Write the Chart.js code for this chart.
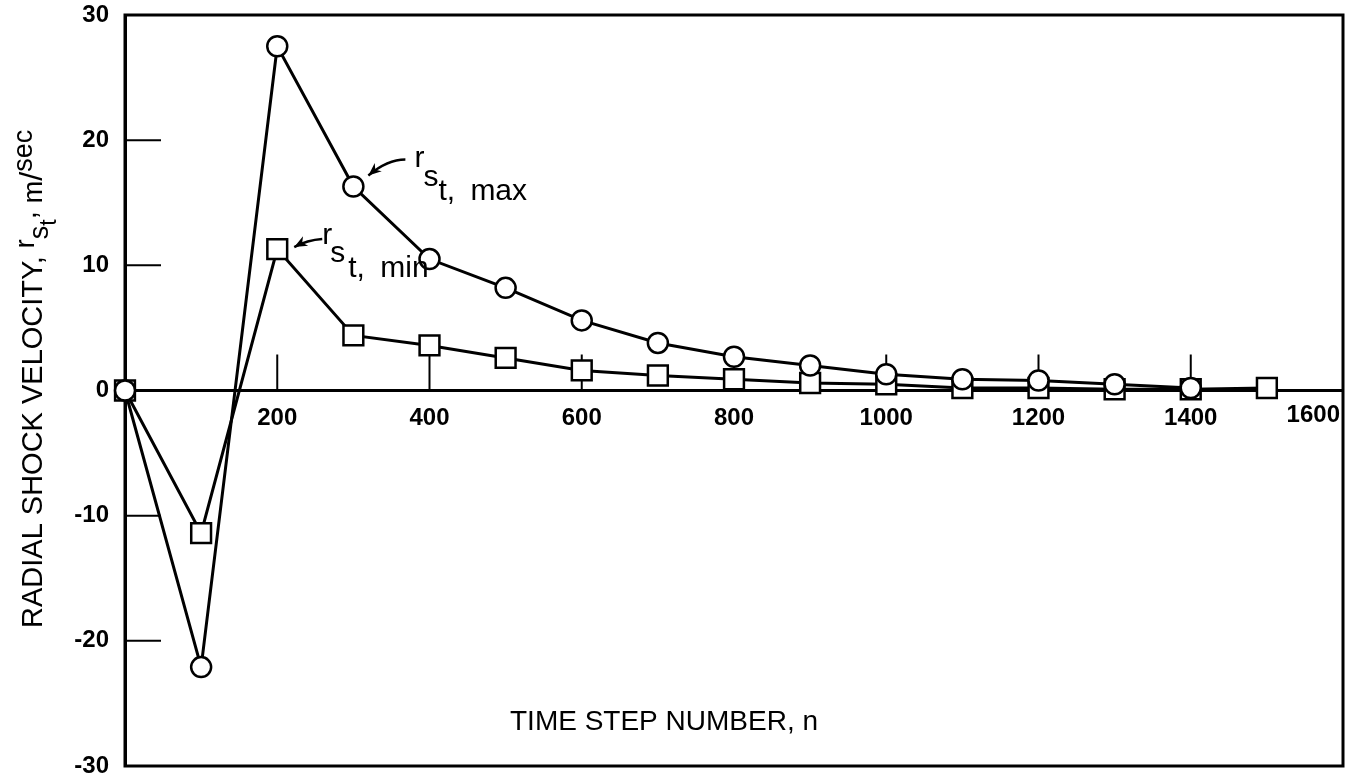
<!DOCTYPE html>
<html>
<head>
<meta charset="utf-8">
<script src="https://cdn.jsdelivr.net/npm/chart.js@4.4.0/dist/chart.umd.min.js"></script>
<style>
  html, body { margin: 0; padding: 0; background: #fff; overflow: hidden; }
  #wrap { width: 1348px; height: 773px; }
  canvas { display: block; }
</style>
</head>
<body>
<div id="wrap"><canvas id="shockChart" width="1348" height="773"></canvas></div>
<script>
// time step numbers and the two velocity envelopes (m/sec)
const timeSteps = [0, 100, 200, 300, 400, 500, 600, 700, 800, 900, 1000, 1100, 1200, 1300, 1400, 1500];
const maxVelocity = [0, -22.1, 27.5, 16.3, 10.5, 8.2, 5.6, 3.8, 2.7, 2.0, 1.3, 0.9, 0.8, 0.5, 0.2];
const minVelocity = [0, -11.4, 11.3, 4.4, 3.6, 2.6, 1.6, 1.2, 0.9, 0.6, 0.5, 0.2, 0.2, 0.1, 0.1, 0.2];

const xTickValues = [0, 200, 400, 600, 800, 1000, 1200, 1400, 1600];
const yTickValues = [-30, -20, -10, 0, 10, 20, 30];

const FONT = "'Liberation Sans', Arial, sans-serif";
const INK = "#000";

function toPoints(values) {
  return values.map((v, i) => ({ x: timeSteps[i], y: v }));
}

// arrow + stacked "r s t, label" note next to a data point
function drawNote(ctx, px, py, arrow, parts) {
  ctx.save();
  ctx.strokeStyle = INK;
  ctx.fillStyle = INK;
  ctx.lineWidth = 2.5;
  const [tail, bend, tip] = arrow;
  ctx.beginPath();
  ctx.moveTo(px + tail[0], py + tail[1]);
  ctx.quadraticCurveTo(px + bend[0], py + bend[1], px + tip[0], py + tip[1]);
  ctx.stroke();
  const ang = Math.atan2(tip[1] - bend[1], tip[0] - bend[0]);
  ctx.beginPath();
  ctx.moveTo(px + tip[0], py + tip[1]);
  ctx.lineTo(px + tip[0] - 14 * Math.cos(ang - 0.4), py + tip[1] - 14 * Math.sin(ang - 0.4));
  ctx.lineTo(px + tip[0] - 9 * Math.cos(ang), py + tip[1] - 9 * Math.sin(ang));
  ctx.lineTo(px + tip[0] - 14 * Math.cos(ang + 0.4), py + tip[1] - 14 * Math.sin(ang + 0.4));
  ctx.closePath();
  ctx.fill();
  ctx.textBaseline = "alphabetic";
  ctx.textAlign = "left";
  parts.forEach(p => {
    ctx.font = p.size + "px " + FONT;
    ctx.fillText(p.text, px + p.dx, py + p.dy);
  });
  ctx.restore();
}

const framePlugin = {
  id: "frame",
  beforeDatasetsDraw(chart) {
    const { ctx, chartArea: a, scales: { x, y } } = chart;
    ctx.save();
    ctx.strokeStyle = INK;
    ctx.lineWidth = 3;
    ctx.strokeRect(a.left, a.top, a.right - a.left, a.bottom - a.top);
    // inward ticks on the left edge
    ctx.lineWidth = 2;
    yTickValues.filter(v => v !== 0 && Math.abs(v) !== 30).forEach(v => {
      const py = y.getPixelForValue(v);
      ctx.beginPath();
      ctx.moveTo(a.left, py);
      ctx.lineTo(a.left + 36, py);
      ctx.stroke();
    });
    // upward ticks on the zero line
    const y0 = y.getPixelForValue(0);
    xTickValues.filter(v => v > 0 && v < 1600).forEach(v => {
      const px = x.getPixelForValue(v);
      ctx.beginPath();
      ctx.moveTo(px, y0);
      ctx.lineTo(px, y0 - 36);
      ctx.stroke();
    });
    ctx.restore();
  },
  afterDraw(chart) {
    const { ctx, chartArea: a, scales: { x, y } } = chart;
    ctx.save();
    ctx.fillStyle = INK;

    // last x label sits against the right border
    ctx.font = "bold 24px " + FONT;
    ctx.textAlign = "right";
    ctx.textBaseline = "top";
    ctx.fillText("1600", a.right - 3, y.getPixelForValue(0) + 13);

    // x title inside the plot
    ctx.font = "28px " + FONT;
    ctx.textAlign = "left";
    ctx.textBaseline = "alphabetic";
    ctx.fillText("TIME STEP NUMBER, n", 510, 730);

    // rotated y title with sub/superscripts
    ctx.translate(42, 628);
    ctx.rotate(-Math.PI / 2);
    const segs = [
      { text: "RADIAL SHOCK VELOCITY, ", size: 29, dy: 0 },
      { text: "r", size: 27, dy: -8 },
      { text: "s", size: 27, dy: 6 },
      { text: "t", size: 23, dy: 14 },
      { text: ", ", size: 29, dy: -6 },
      { text: "m", size: 27, dy: 0 },
      { text: "/", size: 32, dy: 0 },
      { text: "sec", size: 27, dy: -10 }
    ];
    let u = 0;
    segs.forEach(s => {
      ctx.font = s.size + "px " + FONT;
      ctx.fillText(s.text, u, s.dy);
      u += ctx.measureText(s.text).width;
    });
    ctx.restore();

    // notes for the two curves
    const pMax = [x.getPixelForValue(timeSteps[3]), y.getPixelForValue(maxVelocity[3])];
    drawNote(ctx, pMax[0], pMax[1], [[52, -27], [34, -27], [15, -11]], [
      { text: "r", size: 30, dx: 61, dy: -19 },
      { text: "s", size: 30, dx: 70, dy: 0 },
      { text: "t,", size: 30, dx: 85, dy: 14 },
      { text: "max", size: 30, dx: 117, dy: 14 }
    ]);
    const pMin = [x.getPixelForValue(timeSteps[2]), y.getPixelForValue(minVelocity[2])];
    drawNote(ctx, pMin[0], pMin[1], [[45, -10], [30, -9], [17, -2]], [
      { text: "r", size: 30, dx: 45, dy: -5 },
      { text: "s", size: 30, dx: 53, dy: 13 },
      { text: "t,", size: 30, dx: 71, dy: 28 },
      { text: "min", size: 30, dx: 103, dy: 28 }
    ]);
  }
};

const ctx = document.getElementById("shockChart").getContext("2d");
new Chart(ctx, {
  type: "scatter",
  data: {
    datasets: [
      {
        label: "max",
        data: toPoints(maxVelocity),
        showLine: true,
        borderColor: INK,
        borderWidth: 3,
        pointStyle: "circle",
        pointRadius: 10,
        pointBorderWidth: 2.5,
        pointBackgroundColor: "#fff",
        pointBorderColor: INK,
        tension: 0,
        clip: false
      },
      {
        label: "min",
        data: toPoints(minVelocity),
        showLine: true,
        borderColor: INK,
        borderWidth: 3,
        pointStyle: "rect",
        pointRadius: 14,
        pointBorderWidth: 2.5,
        pointBackgroundColor: "#fff",
        pointBorderColor: INK,
        tension: 0,
        clip: false
      }
    ]
  },
  options: {
    responsive: false,
    animation: false,
    events: [],
    layout: { autoPadding: false, padding: { top: 15, right: 5, bottom: 7, left: 0 } },
    plugins: {
      legend: { display: false },
      tooltip: { enabled: false }
    },
    scales: {
      x: {
        type: "linear",
        position: { y: 0 },
        min: 0,
        max: 1600,
        afterBuildTicks: s => { s.ticks = xTickValues.map(v => ({ value: v })); },
        afterFit: s => { s.paddingLeft = 0; s.paddingRight = 0; },
        grid: { drawOnChartArea: false, drawTicks: false },
        border: { color: INK, width: 3 },
        ticks: {
          autoSkip: false,
          maxRotation: 0,
          padding: 13,
          color: INK,
          font: { family: FONT, size: 24, weight: "bold" },
          callback: v => (v === 0 || v === 1600) ? "" : String(v)
        }
      },
      y: {
        type: "linear",
        position: "left",
        min: -30,
        max: 30,
        afterBuildTicks: s => { s.ticks = yTickValues.map(v => ({ value: v })); },
        afterFit: s => { s.width = 125; s.paddingTop = 0; s.paddingBottom = 0; },
        grid: { drawOnChartArea: false, drawTicks: false },
        border: { color: INK, width: 3 },
        ticks: {
          padding: 16,
          color: INK,
          font: { family: FONT, size: 24, weight: "bold" }
        }
      }
    }
  },
  plugins: [framePlugin]
});
</script>
</body>
</html>
